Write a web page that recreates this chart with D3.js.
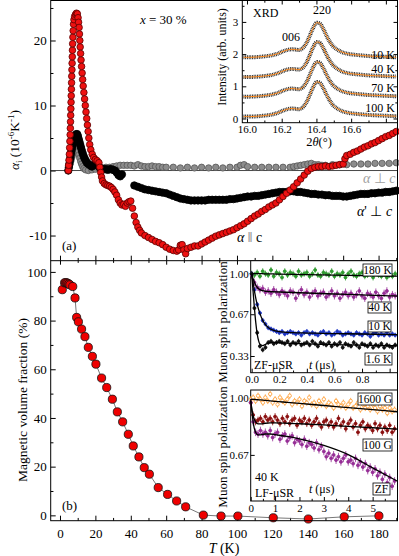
<!DOCTYPE html>
<html>
<head>
<meta charset="utf-8">
<script src="https://cdn.jsdelivr.net/npm/d3@7"></script>
<style>
  body { margin: 0; background: #fff; }
  svg { display: block; }
  svg text { font-family: "Liberation Serif", Tinos, "Times New Roman", serif !important; }
</style>
</head>
<body>
<svg></svg>
<script>
// ---------- panel (a): thermal expansion ----------
const parT = [4.7,4.9,5.1,5.3,5.45,5.6,5.75,5.85,5.95,6.05,6.15,6.25,6.35,6.45,6.55,6.65,6.75,6.85,6.95,7.05,7.15,7.3,7.45,7.65,7.9,8.3,8.8,9.3,9.8,10.2,10.5,10.8,11.0,11.2,11.4,11.65,11.9,12.2,12.5,12.8,13.1,13.5,13.9,14.3,14.7,15.1,15.5,15.9,16.3,16.8,17.4,18.2,19,20,21,22,22.5,23,23.5,24,25,26,27,28,29,30,31,32,33,34,35,36,37,38,39,40,41,42,43,44,45,46,48,50,52,54,56,58,60,62,64,66,67,68,69,70,71,72,74,76,78,80,82,84,86,88,90,92,94,96,98,100,102,104,106,108,110,112,114,116,118,120,122,124,126,128,130,132,134,136,138,140,142,144,146,148,150,152,154,156,158,160,161,162,164,166,168,170,172,174,176,178,180,182,184,186,188,190];
const parV = [0,0.8,1.6,2.5,3.5,4.5,5.5,6.5,7.5,8.5,9.5,10.5,11.5,12.5,13.5,14.5,15.5,16.5,17.5,18.5,19.5,20.5,21.5,22.5,23.2,23.7,24.0,24.2,24.1,23.5,22.8,22.0,21.0,20.0,19.0,18.0,17.0,16.0,15.0,14.0,13.0,12.0,11.0,10.0,9.0,8.0,7.0,6.0,5.0,4.0,3.2,2.5,2.0,1.7,1.5,1.2,0.5,-0.3,-1.0,-1.6,-2.0,-2.2,-2.3,-2.4,-2.6,-2.9,-3.3,-3.8,-4.5,-5.0,-5.3,-5.2,-5.5,-5.0,-4.8,-4.7,-5.8,-7.0,-8.0,-8.7,-9.2,-9.6,-10.0,-10.3,-10.6,-10.9,-11.1,-11.4,-11.8,-12.1,-12.3,-12.4,-12.2,-11.5,-11.4,-12.2,-12.8,-12.0,-11.8,-11.6,-11.6,-11.3,-11.0,-10.7,-10.4,-10.1,-9.9,-9.7,-9.5,-9.3,-9.1,-8.8,-8.5,-8.2,-7.8,-7.4,-7.0,-6.7,-6.3,-6.0,-5.6,-5.3,-5.0,-4.5,-4.0,-3.5,-3.0,-2.5,-1.9,-1.3,-0.7,-0.1,0.3,0.5,0.6,0.6,0.7,0.6,0.7,0.8,0.9,1.0,1.8,2.3,2.5,2.8,3.0,3.3,3.6,3.8,4.1,4.3,4.6,4.9,5.2,5.4,5.7,6.0];

const perpPT = [4.7,5.0,5.3,5.6,5.9,6.2,6.5,6.9,7.3,7.7,8.2,8.7,9.2,9.7,10.1,10.5,10.9,11.3,11.7,12.1,12.5,13.0,13.5,14.0,14.6,15.2,16,17,18,19,20,21,22,23,24,25,26,27,28,29,30,31,32,33,34,35,42,44,46,48,50,52,54,56,58,60,62,64,66,68,70,72,74,76,78,80,82,84,86,88,90,92,94,96,98,100,102,104,106,108,110,112,114,116,118,120,122,124,126,128,130,132,134,136,138,140,142,144,146,148,150,152,154,156,158,160,162,164,166,168,170,172,174,176,178,180,182,184,186,188,190];
const perpPV = [0,0.5,1.0,1.5,2.0,2.5,3.0,3.5,4.0,4.5,5.0,5.4,5.6,5.6,5.3,4.9,4.5,4.1,3.7,3.3,2.9,2.5,2.1,1.8,1.5,1.2,1.0,0.8,0.6,0.8,1.1,1.0,0.6,0.3,0.2,0.2,0.2,0.1,0.2,0.2,0.1,0.0,-0.3,-0.7,-0.9,-0.6,-2.3,-2.5,-2.7,-2.9,-3.0,-3.1,-3.2,-3.3,-3.4,-3.5,-3.7,-3.9,-4.1,-4.3,-4.4,-4.5,-4.6,-4.6,-4.6,-4.6,-4.6,-4.5,-4.5,-4.5,-4.5,-4.5,-4.5,-4.4,-4.4,-4.3,-4.2,-4.1,-4.0,-4.0,-3.9,-3.9,-3.8,-3.7,-3.6,-3.5,-3.4,-3.3,-3.3,-3.3,-3.2,-3.2,-3.3,-3.3,-3.4,-3.5,-3.6,-3.6,-3.7,-3.7,-3.8,-3.8,-3.9,-3.9,-3.9,-4.0,-4.0,-3.9,-3.8,-3.7,-3.6,-3.6,-3.6,-3.5,-3.5,-3.4,-3.4,-3.3,-3.3,-3.2,-3.1];

const perpT = [4.7,5.2,5.7,6.2,6.7,7.2,7.7,8.2,8.7,9.2,9.7,10.2,10.7,11.2,11.7,12.2,12.8,13.5,14.5,16,18,20,22,24,26,28,30,32,34,36,38,40,42,44,46,48,50,52,54,56,58,60,64,68,72,76,80,84,88,92,96,100,102,104,106,110,114,118,122,126,130,132,134,136,138,140,142,144,146,148,150,154,158,162,166,170,174,178,182,186,190];
const perpV = [0,0.5,1.0,1.5,2.0,2.5,3.0,3.3,3.5,3.5,3.3,2.9,2.4,1.9,1.4,1.0,0.6,0.3,0.1,0.0,0.1,0.2,0.3,0.4,0.5,0.5,0.6,0.7,0.8,0.8,0.8,0.8,0.7,0.9,0.7,0.6,0.6,0.7,0.6,0.6,0.5,0.5,0.5,0.4,0.5,0.4,0.5,0.4,0.5,0.4,0.5,0.5,0.8,0.9,0.6,0.5,0.5,0.5,0.5,0.5,0.5,0.6,0.7,0.8,0.9,1.0,1.1,0.9,0.9,0.8,0.8,0.9,0.9,0.9,1.0,1.0,1.0,1.1,1.1,1.1,1.2];

// ---------- panel (b): magnetic volume fraction ----------
const magT = [1.3,2.6,3.2,3.8,4.4,5.0,5.6,7.2,8.5,9.4,10.4,12.2,14.1,16.0,18.3,20.3,23.5,26.4,29.6,32.4,35.4,38.6,41.4,44.6,47.6,50.5,55.5,60.8,65.9,71.0,81,91,100.5,120.5,140.3,160.6,180.2];
const magV = [92.7,95.5,95.6,95.5,95.3,95.0,94.7,94.0,89.3,81.3,79.5,76.5,73.4,69.0,65.3,62.1,56.4,52.5,47.7,42.5,38.4,33.3,28.5,24.0,19.6,16.9,11.4,8.6,5.9,3.5,0.1,-0.3,-0.3,-1.0,-1.5,-0.6,-0.2];

// ---------- XRD inset ----------
const xrdTheta = [15.98,16.02,16.06,16.10,16.14,16.18,16.20,16.22,16.24,16.26,16.28,16.30,16.32,16.34,16.36,16.38,16.40,16.42,16.44,16.46,16.48,16.50,16.54,16.58,16.62,16.66,16.70,16.74,16.78,16.82,16.86];
const xrd10 = [1.90,1.90,1.91,1.93,1.96,2.02,2.07,2.11,2.14,2.15,2.14,2.13,2.18,2.32,2.55,2.80,2.97,2.95,2.78,2.55,2.36,2.22,2.08,2.01,1.98,1.96,1.94,1.93,1.92,1.91,1.90];
const xrd40 = [1.29,1.29,1.30,1.32,1.35,1.41,1.46,1.50,1.53,1.54,1.53,1.52,1.57,1.71,1.94,2.20,2.37,2.35,2.18,1.96,1.77,1.63,1.48,1.41,1.38,1.36,1.34,1.33,1.32,1.31,1.30];
const xrd70 = [0.68,0.68,0.69,0.71,0.74,0.80,0.85,0.89,0.92,0.93,0.92,0.91,0.96,1.10,1.33,1.58,1.75,1.73,1.56,1.34,1.15,1.01,0.87,0.80,0.77,0.75,0.73,0.72,0.71,0.70,0.69];
const xrd100 = [0.06,0.06,0.07,0.09,0.12,0.18,0.23,0.27,0.30,0.31,0.30,0.29,0.34,0.48,0.71,0.96,1.13,1.11,0.94,0.72,0.53,0.39,0.25,0.18,0.15,0.13,0.11,0.10,0.09,0.08,0.07];
const xrdLabels = ['10 K', '40 K', '70 K', '100 K'];

// ---------- ZF-muSR inset ----------
const zfT = d3.range(0, 1.05, 0.02);
const zf180 = [1.00,0.99,1.01,0.98,1.02,1.00,0.99,1.03,0.98,1.01,1.00,0.97,1.02,0.99,1.01,1.00,0.98,1.02,0.99,1.00,1.01,0.98,1.00,1.03,0.99,0.98,1.01,1.00,0.99,1.02,0.98,1.00,0.99,1.01,0.97,1.00,1.02,0.99,0.98,1.00,1.01,0.98,0.99,1.00,0.97,1.01,0.99,0.98,1.00,0.97,0.99,0.98,1.00];
const zf40 = [0.99,0.93,0.89,0.87,0.88,0.85,0.86,0.84,0.87,0.85,0.83,0.86,0.84,0.82,0.86,0.85,0.80,0.84,0.87,0.83,0.85,0.81,0.84,0.86,0.82,0.84,0.85,0.81,0.83,0.86,0.82,0.84,0.80,0.83,0.85,0.82,0.84,0.81,0.83,0.86,0.82,0.80,0.84,0.83,0.81,0.85,0.82,0.80,0.84,0.86,0.81,0.83,0.82];
const zf10 = [1.00,0.87,0.75,0.68,0.62,0.59,0.56,0.55,0.54,0.53,0.52,0.53,0.51,0.52,0.53,0.52,0.51,0.52,0.50,0.52,0.53,0.51,0.52,0.51,0.50,0.52,0.53,0.51,0.52,0.50,0.51,0.53,0.52,0.50,0.51,0.52,0.51,0.50,0.52,0.51,0.50,0.52,0.51,0.49,0.51,0.52,0.50,0.51,0.50,0.52,0.50,0.51,0.50];
const zf16 = [1.00,0.72,0.52,0.41,0.38,0.40,0.44,0.45,0.43,0.44,0.45,0.44,0.43,0.45,0.42,0.44,0.43,0.45,0.42,0.43,0.44,0.42,0.45,0.43,0.41,0.44,0.43,0.42,0.44,0.41,0.43,0.42,0.44,0.40,0.43,0.42,0.41,0.44,0.42,0.40,0.43,0.42,0.41,0.43,0.40,0.42,0.41,0.43,0.40,0.42,0.41,0.40,0.42];
const zfFitT = [0,0.01,0.02,0.03,0.04,0.05,0.06,0.08,0.10,0.12,0.15,0.2,0.3,0.4,0.5,0.6,0.7,0.8,0.9,1.0,1.06];
const zfFit180 = [1.0,1.0,1.0,1.0,1.0,1.0,1.0,1.0,0.999,0.999,0.998,0.997,0.995,0.993,0.991,0.989,0.987,0.985,0.983,0.981,0.98];
const zfFit40 = [1.0,0.96,0.93,0.905,0.89,0.878,0.87,0.862,0.857,0.855,0.853,0.851,0.847,0.843,0.839,0.835,0.831,0.827,0.823,0.82,0.818];
const zfFit10 = [1.0,0.93,0.86,0.8,0.75,0.71,0.675,0.62,0.585,0.562,0.542,0.528,0.52,0.517,0.515,0.513,0.511,0.509,0.507,0.505,0.504];
const zfFit16 = [1.0,0.86,0.72,0.6,0.51,0.455,0.425,0.415,0.425,0.435,0.44,0.438,0.432,0.428,0.425,0.422,0.42,0.418,0.416,0.414,0.413];

// ---------- LF-muSR inset ----------
const lfT = d3.range(0, 5.95, 0.1);
const lf1600 = [0.99,1.00,0.98,1.01,0.99,0.97,1.00,0.98,1.02,0.97,0.99,0.96,1.00,0.98,0.97,0.99,1.01,0.96,0.98,0.97,0.99,0.95,0.98,0.97,1.00,0.96,0.97,0.95,0.98,0.96,0.99,0.95,0.97,0.96,0.94,0.98,0.96,0.95,0.97,0.94,0.96,0.98,0.94,0.95,0.97,0.93,0.96,0.94,0.95,0.93,0.96,0.94,0.92,0.95,0.93,0.94,0.91,0.94,0.92,0.93];
const lf100 = [0.97,0.90,0.86,0.87,0.88,0.86,0.89,0.87,0.88,0.86,0.89,0.87,0.85,0.88,0.86,0.89,0.85,0.87,0.88,0.84,0.87,0.86,0.88,0.85,0.87,0.84,0.86,0.88,0.85,0.83,0.86,0.87,0.84,0.86,0.83,0.85,0.88,0.84,0.86,0.82,0.85,0.87,0.83,0.85,0.80,0.84,0.86,0.82,0.84,0.83,0.81,0.85,0.82,0.84,0.80,0.83,0.81,0.84,0.80,0.82];
const lfZF = [0.97,0.86,0.80,0.79,0.81,0.79,0.80,0.78,0.81,0.77,0.79,0.80,0.76,0.78,0.79,0.75,0.77,0.78,0.74,0.76,0.75,0.73,0.76,0.72,0.74,0.73,0.71,0.74,0.70,0.72,0.69,0.66,0.68,0.65,0.67,0.64,0.66,0.63,0.65,0.67,0.63,0.64,0.62,0.65,0.61,0.63,0.60,0.62,0.58,0.60,0.57,0.59,0.55,0.57,0.53,0.56,0.51,0.54,0.49,0.52];
const lfFitT = [0,0.05,0.1,0.2,0.3,0.4,0.6,0.8,1.0,1.5,2,3,4,5,6];
const lfFit1600 = [0.99,0.989,0.989,0.988,0.987,0.986,0.983,0.981,0.978,0.972,0.966,0.954,0.942,0.93,0.918];
const lfFit100 = [0.98,0.93,0.895,0.86,0.848,0.848,0.852,0.854,0.854,0.852,0.849,0.842,0.834,0.826,0.818];
const lfFitZF = [0.99,0.92,0.86,0.80,0.785,0.785,0.79,0.79,0.786,0.776,0.762,0.725,0.672,0.595,0.52];

// ================= drawing =================
const serif = '"Liberation Serif", Tinos, "Times New Roman", serif';
const svg = d3.select('svg').attr('width', 399).attr('height', 556)
  .attr('font-family', serif);

const L = 50.7, R = 397.5, TOP = 0.5, MID = 260.7, BOT = 520.7;
const x = d3.scaleLinear().domain([-5.25, 190.7]).range([L, R]);
const yA = d3.scaleLinear().domain([-13.87, 26.15]).range([MID, TOP]);
const yB = d3.scaleLinear().domain([-2.2, 104.6]).range([BOT, MID]);

const fmtInt = d => String(d);

function axis(gen, scale, tr, major, minor, len, fmt, fs, pad) {
  const g = svg.append('g').attr('transform', tr);
  g.call(gen(scale).tickValues(major).tickSize(-len).tickPadding(pad == null ? 4 : pad)
    .tickFormat(fmt || (() => '')));
  g.attr('font-family', serif).attr('font-size', fs || 13);
  g.select('.domain').remove();
  if (minor) {
    const m = svg.append('g').attr('transform', tr);
    m.call(gen(scale).tickValues(minor).tickSize(-len * 0.55).tickFormat(() => ''));
    m.select('.domain').remove();
  }
  return g;
}

const tMajor = d3.range(0, 181, 20), tMinor = d3.range(10, 191, 20);

// panel a axes
axis(d3.axisLeft, yA, `translate(${L},0)`, [-10, 0, 10, 20], [-5, 5, 15, 25], 5, fmtInt, 13, 4);
axis(d3.axisBottom, x, `translate(0,${MID})`, tMajor, tMinor, 5);
svg.append('line').attr('x1', L).attr('x2', R).attr('y1', yA(0)).attr('y2', yA(0))
  .attr('stroke', '#333').attr('stroke-width', 0.9);

// panel b axes
axis(d3.axisLeft, yB, `translate(${L},0)`, d3.range(0, 101, 20), d3.range(10, 100, 20), 5, fmtInt, 13, 4);
axis(d3.axisTop, x, `translate(0,${MID})`, tMajor, tMinor, 4);
axis(d3.axisBottom, x, `translate(0,${BOT})`, tMajor, tMinor, 5, fmtInt, 13, 8);

// panel a data
function dots(T, V, yScale, r, fill, stroke) {
  svg.append('g').selectAll('circle').data(T.map((t, i) => [t, V[i]])).join('circle')
    .attr('cx', d => x(d[0])).attr('cy', d => yScale(d[1])).attr('r', r)
    .attr('fill', fill).attr('stroke', stroke).attr('stroke-width', 0.8);
}
dots(perpT, perpV, yA, 3.2, '#8c8c8c', '#555');
dots(perpPT, perpPV, yA, 3.7, '#000', '#000');
dots(parT, parV, yA, 3.3, '#ee1111', '#5a0000');

// panel b data
svg.append('path')
  .attr('d', d3.line().x(d => x(d[0])).y(d => yB(d[1]))(magT.map((t, i) => [t, magV[i]])))
  .attr('fill', 'none').attr('stroke', '#555').attr('stroke-width', 0.8);
dots(magT, magV, yB, 4.1, '#ee0000', '#111');

// frame
svg.append('rect').attr('x', L).attr('y', TOP).attr('width', R - L).attr('height', BOT - TOP)
  .attr('fill', 'none').attr('stroke', '#000').attr('stroke-width', 1);
svg.append('line').attr('x1', L).attr('x2', R).attr('y1', MID).attr('y2', MID)
  .attr('stroke', '#000').attr('stroke-width', 1);

// text helpers
function txt(xp, yp, s, opt = {}) {
  return svg.append('text').attr('x', xp).attr('y', yp).text(s)
    .attr('font-size', opt.fs || 13).attr('text-anchor', opt.anchor || 'start')
    .attr('fill', opt.fill || '#000').attr('font-style', opt.italic ? 'italic' : null);
}

// panel a labels
const xl = txt(140, 24, '', { fs: 13 });
xl.append('tspan').attr('font-style', 'italic').text('x');
xl.append('tspan').text(' = 30 %');
txt(62, 250, '(a)', { fs: 13 });
txt(62, 510, '(b)', { fs: 13 });

const l1 = txt(363, 183, '', { fs: 14, fill: '#a0a0a0' });
l1.append('tspan').attr('font-style', 'italic').text('α');
l1.append('tspan').text(' ⊥ ');
l1.append('tspan').attr('font-style', 'italic').text('c');

const l2 = txt(357, 216, '', { fs: 14 });
l2.append('tspan').attr('font-style', 'italic').text('α');
l2.append('tspan').text("' ⊥ ");
l2.append('tspan').attr('font-style', 'italic').text('c');

const l3 = txt(237, 242, '', { fs: 14 });
l3.append('tspan').attr('font-style', 'italic').text('α');
l3.append('tspan').attr('fill', '#999').attr('font-weight', 'bold').text(' ‖ ');
l3.append('tspan').text('c');

// y label panel a
const ya = svg.append('text').attr('transform', 'translate(19,140) rotate(-90)')
  .attr('text-anchor', 'middle').attr('font-size', 13.5);
ya.append('tspan').attr('font-style', 'italic').text('α');
ya.append('tspan').attr('font-size', 9).attr('dy', 3).text('i');
ya.append('tspan').attr('dy', -3).text(' (10');
ya.append('tspan').attr('font-size', 9).attr('dy', -5).text('-6');
ya.append('tspan').attr('dy', 5).text('K');
ya.append('tspan').attr('font-size', 9).attr('dy', -5).text('-1');
ya.append('tspan').attr('dy', 5).text(')');

// y label panel b
svg.append('text').attr('transform', 'translate(27,400) rotate(-90)')
  .attr('text-anchor', 'middle').attr('font-size', 13.5).text('Magnetic volume fraction (%)');

// x label
const xlab = txt(224, 553, '', { fs: 14, anchor: 'middle' });
xlab.append('tspan').attr('font-style', 'italic').text('T');
xlab.append('tspan').text(' (K)');

// ================= XRD inset =================
const xX = d3.scaleLinear().domain([15.973, 16.867]).range([242.3, R]);
const xY = d3.scaleLinear().domain([-0.13, 3.665]).range([122.7, TOP]);
svg.append('rect').attr('x', 242.3).attr('y', TOP).attr('width', R - 242.3).attr('height', 122.7 - TOP)
  .attr('fill', '#fff').attr('stroke', '#000').attr('stroke-width', 1);
axis(d3.axisBottom, xX, 'translate(0,122.7)', [16.0, 16.2, 16.4, 16.6, 16.8], [16.1, 16.3, 16.5, 16.7],
  4, d => d < 16.7 ? d.toFixed(1) : '', 11, 3);
axis(d3.axisTop, xX, `translate(0,${TOP})`, [16.0, 16.2, 16.4, 16.6, 16.8], [16.1, 16.3, 16.5, 16.7], 4);
axis(d3.axisLeft, xY, 'translate(242.3,0)', [0, 1, 2, 3], [0.5, 1.5, 2.5, 3.5], 4, fmtInt, 11, 4);
axis(d3.axisRight, xY, `translate(${R},0)`, [0, 1, 2, 3], [0.5, 1.5, 2.5, 3.5], 4);

const xrdLine = d3.line().x(d => xX(d[0])).y(d => xY(d[1])).curve(d3.curveCatmullRom);
[xrd10, xrd40, xrd70, xrd100].forEach(vals => {
  const pts = xrdTheta.map((t, i) => [t, vals[i]]);
  svg.append('path').attr('d', xrdLine(pts)).attr('fill', 'none')
    .attr('stroke', '#111').attr('stroke-width', 4).attr('stroke-dasharray', '0.9,0.8').attr('opacity', 0.9);
  svg.append('path').attr('d', xrdLine(pts)).attr('fill', 'none')
    .attr('stroke', '#ff8a1c').attr('stroke-width', 1);
});
const xrdLabY = [59, 72.5, 92, 112];
xrdLabels.forEach((s, i) => txt(395, xrdLabY[i], s, { fs: 12, anchor: 'end' }));
txt(253, 17, 'XRD', { fs: 12 });
txt(322, 14, '220', { fs: 12, anchor: 'middle' });
txt(291, 41, '006', { fs: 12, anchor: 'middle' });
const tl = txt(319, 146, '', { fs: 12.5, anchor: 'middle' });
tl.append('tspan').text('2');
tl.append('tspan').attr('font-style', 'italic').text('θ');
tl.append('tspan').text('(°)');
svg.append('text').attr('transform', 'translate(222,57) rotate(-90)')
  .attr('text-anchor', 'middle').attr('dy', '0.35em').attr('font-size', 12).text('Intensity (arb. units)');

// ================= muSR insets =================
function boxLabel(x1, y1, x2, y2, s) {
  svg.append('rect').attr('x', x1).attr('y', y1).attr('width', x2 - x1).attr('height', y2 - y1)
    .attr('fill', '#fff').attr('stroke', '#000').attr('stroke-width', 0.8);
  txt((x1 + x2) / 2, y2 - 2.5, s, { fs: 11.5, anchor: 'middle' });
}

function errDots(sx, sy, T, V, e, color, open) {
  const g = svg.append('g');
  const pts = T.map((t, i) => [t, V[i]]);
  g.selectAll('path').data(pts).join('path')
    .attr('d', d => {
      const px = sx(d[0]), py = sy(d[1]), dy = Math.abs(sy(d[1] + e) - py);
      return `M${px},${py - dy}V${py + dy}M${px - 1.4},${py}H${px + 1.4}`;
    })
    .attr('stroke', color).attr('stroke-width', 0.8);
  g.selectAll('circle').data(pts).join('circle')
    .attr('cx', d => sx(d[0])).attr('cy', d => sy(d[1])).attr('r', open ? 1.7 : 1.5)
    .attr('fill', open ? '#fff' : color).attr('stroke', color).attr('stroke-width', 0.8);
}
function fitLine(sx, sy, T, V) {
  svg.append('path')
    .attr('d', d3.line().x(d => sx(d[0])).y(d => sy(d[1])).curve(d3.curveMonotoneX)(T.map((t, i) => [t, V[i]])))
    .attr('fill', 'none').attr('stroke', '#000').attr('stroke-width', 1.3);
}

// ZF inset
const IL = 250.7;
const zX = d3.scaleLinear().domain([-0.007, 1.057]).range([IL, R]);
const zY = d3.scaleLinear().domain([0.194, 1.106]).range([372.7, MID]);
svg.append('rect').attr('x', IL).attr('y', MID).attr('width', R - IL).attr('height', 372.7 - MID)
  .attr('fill', '#fff').attr('stroke', '#000').attr('stroke-width', 1);
axis(d3.axisBottom, zX, 'translate(0,372.7)', [0, 0.2, 0.4, 0.6, 0.8, 1.0], [0.1, 0.3, 0.5, 0.7, 0.9],
  4, d => d < 0.9 ? d.toFixed(1) : '', 11, 2);
axis(d3.axisLeft, zY, `translate(${IL},0)`, [0.33, 0.67, 1.0], null, 4, d3.format('.2f'), 11, 2);

errDots(zX, zY, zfT, zf180, 0.025, '#2e9a2e');
errDots(zX, zY, zfT, zf40, 0.03, '#962d96');
errDots(zX, zY, zfT, zf10, 0.02, '#1d35c4');
errDots(zX, zY, zfT, zf16, 0.02, '#111');
fitLine(zX, zY, zfFitT, zfFit180);
fitLine(zX, zY, zfFitT, zfFit40);
fitLine(zX, zY, zfFitT, zfFit10);
fitLine(zX, zY, zfFitT, zfFit16);
boxLabel(363, 264, 392, 276, '180 K');
boxLabel(368, 302, 391, 313, '40 K');
boxLabel(368, 321, 391, 332, '10 K');
boxLabel(365, 353, 392, 365, '1.6 K');
txt(254, 369, 'ZF-μSR', { fs: 12 });
const zt = txt(309, 369, '', { fs: 12 });
zt.append('tspan').attr('font-style', 'italic').text('t');
zt.append('tspan').text(' (μs)');
svg.append('text').attr('transform', 'translate(222,322) rotate(-90)')
  .attr('text-anchor', 'middle').attr('dy', '0.35em').attr('font-size', 13).text('Muon spin polarization');

// LF inset
const LT = 390, LB = 501;
const fX = d3.scaleLinear().domain([0, 6.02]).range([IL, R]);
const fY = d3.scaleLinear().domain([0.405, 1.043]).range([LB, LT]);
svg.append('rect').attr('x', IL).attr('y', LT).attr('width', R - IL).attr('height', LB - LT)
  .attr('fill', '#fff').attr('stroke', '#000').attr('stroke-width', 1);
axis(d3.axisBottom, fX, `translate(0,${LB})`, [0, 1, 2, 3, 4, 5], [0.5, 1.5, 2.5, 3.5, 4.5, 5.5],
  4, fmtInt, 11, 3);
axis(d3.axisLeft, fY, `translate(${IL},0)`, [0.67, 1.0], null, 4, d3.format('.2f'), 11, 2);

errDots(fX, fY, lfT, lf1600, 0.018, '#ff9a2e', true);
errDots(fX, fY, lfT, lf100, 0.02, '#8a0f0f');
errDots(fX, fY, lfT, lfZF, 0.022, '#962d96');
fitLine(fX, fY, lfFitT, lfFit1600);
fitLine(fX, fY, lfFitT, lfFit100);
fitLine(fX, fY, lfFitT, lfFitZF);
boxLabel(358, 393, 392, 405, '1600 G');
boxLabel(363, 439, 392, 451, '100 G');
boxLabel(373, 483, 390, 495, 'ZF');
txt(255, 481, '40 K', { fs: 12 });
txt(255, 497, 'LF-μSR', { fs: 12 });
const lt = txt(309, 493, '', { fs: 12 });
lt.append('tspan').attr('font-style', 'italic').text('t');
lt.append('tspan').text(' (μs)');
svg.append('text').attr('transform', 'translate(222,447) rotate(-90)')
  .attr('text-anchor', 'middle').attr('dy', '0.35em').attr('font-size', 13).text('Muon spin polarization');
</script>
</body>
</html>
